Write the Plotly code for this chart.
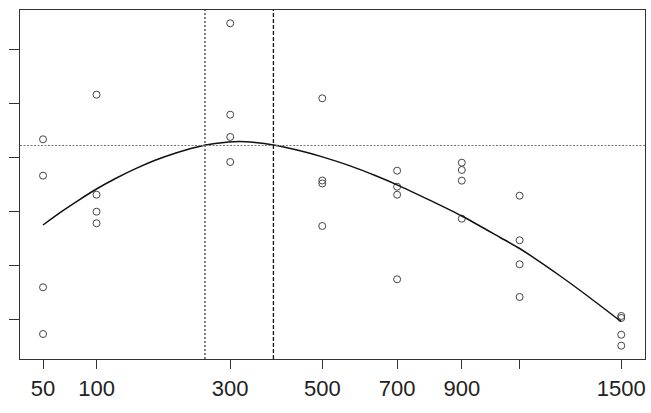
import numpy as np
import plotly.graph_objects as go

# ---- data (x in original units, y in arbitrary units; y-axis unlabeled) ----
dose = [50]*4 + [100]*4 + [300]*4 + [500]*4 + [700]*4 + [900]*4 + [1100]*4 + [1500]*4
resp = [4.340, 3.664, 1.589, 0.721,
        5.169, 3.310, 2.994, 2.779,
        6.496, 4.797, 4.383, 3.918,
        5.102, 3.574, 3.519, 2.729,
        3.757, 3.459, 3.310, 1.738,
        3.905, 3.770, 3.571, 2.864,
        3.292, 2.463, 2.017, 1.409,
        1.056, 1.019, 0.708, 0.504]

# fitted curve
curve_x = [50, 64.0, 80.8, 100, 121.3, 146.7, 174.4, 204.5, 237.1, 272.0, 317.1, 349.1,
           387.5, 447.2, 502.1, 570.6, 637.9, 700, 799.1, 900, 1030.6, 1100, 1252.4, 1371.4, 1500]
curve_y = [2.747, 2.976, 3.201, 3.416, 3.606, 3.790, 3.950, 4.082, 4.188, 4.260, 4.299, 4.279,
           4.232, 4.126, 4.009, 3.846, 3.667, 3.494, 3.204, 2.914, 2.515, 2.310, 1.799, 1.390, 0.950]

hline_y = 4.225
vline_dotted_x = 254
vline_dashed_x = 387.5

tick_vals = [50, 100, 300, 500, 700, 900, 1100, 1500]
tick_text = ["50", "100", "300", "500", "700", "900", "", "1500"]
ytick_vals = [1, 2, 3, 4, 5, 6]

sq = np.sqrt

fig = go.Figure()
fig.add_trace(go.Scatter(
    x=sq(dose), y=resp, mode="markers",
    marker=dict(symbol="circle-open", size=7, color="#444", line=dict(width=1, color="#444")),
    showlegend=False, hoverinfo="skip"))
fig.add_trace(go.Scatter(
    x=sq(curve_x), y=curve_y, mode="lines",
    line=dict(color="#111", width=1.5, shape="spline", smoothing=0.6),
    showlegend=False, hoverinfo="skip"))

fig.add_shape(type="line", xref="paper", yref="y", x0=0, x1=1, y0=hline_y, y1=hline_y,
              line=dict(color="#777", width=1.2, dash="2px,1.5px"))
fig.add_shape(type="line", xref="x", yref="paper", x0=sq(vline_dotted_x), x1=sq(vline_dotted_x), y0=0, y1=1,
              line=dict(color="#555", width=1.5, dash="2px,2px"))
fig.add_shape(type="line", xref="x", yref="paper", x0=sq(vline_dashed_x), x1=sq(vline_dashed_x), y0=0, y1=1,
              line=dict(color="#111", width=1.3, dash="4px,2px"))

fig.update_layout(
    width=651, height=413,
    margin=dict(l=20, r=6, t=10, b=54),
    paper_bgcolor="white", plot_bgcolor="white",
    font=dict(family="Liberation Sans, Arial, sans-serif", color="#222"),
)
fig.update_xaxes(
    range=[5.81, 40.03], tickvals=sq(tick_vals), ticktext=tick_text,
    showgrid=False, zeroline=False, showline=True, linecolor="#333", linewidth=1.2, mirror=True,
    ticks="outside", ticklen=9, tickcolor="#333", tickwidth=1.2,
    tickfont=dict(size=22, color="#222"))
fig.update_yaxes(
    range=[0.2565, 6.743], tickvals=ytick_vals, showticklabels=False,
    showgrid=False, zeroline=False, showline=True, linecolor="#333", linewidth=1.2, mirror=True,
    ticks="outside", ticklen=10, tickcolor="#333", tickwidth=1.2)

fig.write_html("out.html")
